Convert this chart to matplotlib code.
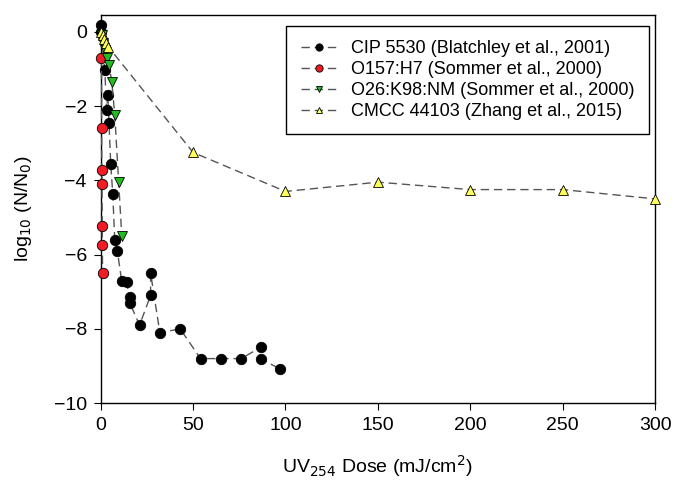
import matplotlib
matplotlib.use("Agg")
import matplotlib.pyplot as plt

plt.rcParams["font.family"] = ["Liberation Sans", "DejaVu Sans"]

# CIP 5530 (Blatchley et al., 2001)
cip_x = [0, 0, 2.2, 3.2, 3.8, 4.5, 5.4, 6.5, 7.6, 9.0, 11.3, 14.0, 15.7, 15.7, 21.0,
         27.0, 27.0, 32.0, 43.0, 54.0, 65.0, 76.0, 86.5, 86.5, 97.0]
cip_y = [0.19, 0.0, -1.03, -2.1, -1.7, -2.46, -3.55, -4.36, -5.6, -5.9, -6.7, -6.75,
         -7.15, -7.3, -7.9, -7.1, -6.5, -8.1, -8.0, -8.8, -8.8, -8.8, -8.5, -8.8, -9.08]

# O157:H7 (Sommer et al., 2000)
o157_x = [0.4, 0.5, 0.6, 0.7, 0.8, 0.9, 1.0]
o157_y = [-0.7, -2.6, -3.73, -4.1, -5.24, -5.73, -6.5]

# O26:K98:NM (Sommer et al., 2000)
o26_x = [0.5, 1.5, 2.5, 3.5, 4.5, 6.0, 7.6, 9.7, 11.4]
o26_y = [-0.1, -0.3, -0.5, -0.7, -0.9, -1.35, -2.24, -4.05, -5.5]

# CMCC 44103 (Zhang et al., 2015)
cmcc_x = [0, 1, 2, 3, 4, 50, 100, 150, 200, 250, 300]
cmcc_y = [0.0, -0.1, -0.2, -0.3, -0.4, -3.25, -4.3, -4.05, -4.25, -4.25, -4.5]

fig = plt.figure(figsize=(6.76, 4.84), dpi=100)
ax = fig.add_axes([0.149, 0.167, 0.82, 0.802])

line_kw = dict(color="#555555", linestyle=(0, (6, 3.5)), linewidth=1.0, clip_on=False,
               markeredgecolor="black", markeredgewidth=0.6)
ax.plot(cip_x, cip_y, marker="o", markersize=7.5, markerfacecolor="black",
        label="CIP 5530 (Blatchley et al., 2001)", zorder=3, **line_kw)
ax.plot(o157_x, o157_y, marker="o", markersize=7.5, markerfacecolor="#ee1c24",
        label="O157:H7 (Sommer et al., 2000)", zorder=4, **line_kw)
ax.plot(o26_x, o26_y, marker="v", markersize=7, markerfacecolor="#22bb22",
        label="O26:K98:NM (Sommer et al., 2000)", zorder=5, **line_kw)
ax.plot(cmcc_x, cmcc_y, marker="^", markersize=6.5, markerfacecolor="#ffff55",
        label="CMCC 44103 (Zhang et al., 2015)", zorder=6, **line_kw)

ax.set_xlim(0, 300)
ax.set_ylim(-10, 0.45)
ax.set_xticks([0, 50, 100, 150, 200, 250, 300])
ax.set_yticks([0, -2, -4, -6, -8, -10])
ax.tick_params(direction="out", length=5, labelsize=14, top=False, right=False, pad=5)
for s in ax.spines.values():
    s.set_linewidth(1.0)

ax.set_xlabel("UV$_{254}$ Dose (mJ/cm$^2$)", fontsize=14, labelpad=14)
ax.set_ylabel("log$_{10}$ (N/N$_0$)", fontsize=14, labelpad=14)

leg = ax.legend(loc="upper right", bbox_to_anchor=(1.006, 0.996), fontsize=13,
                frameon=True, fancybox=False, edgecolor="black", framealpha=1,
                markerscale=0.7, handlelength=2.0, labelspacing=0.22, borderpad=0.8)
leg.get_frame().set_linewidth(1.0)

fig.savefig("out.png", dpi=100)
